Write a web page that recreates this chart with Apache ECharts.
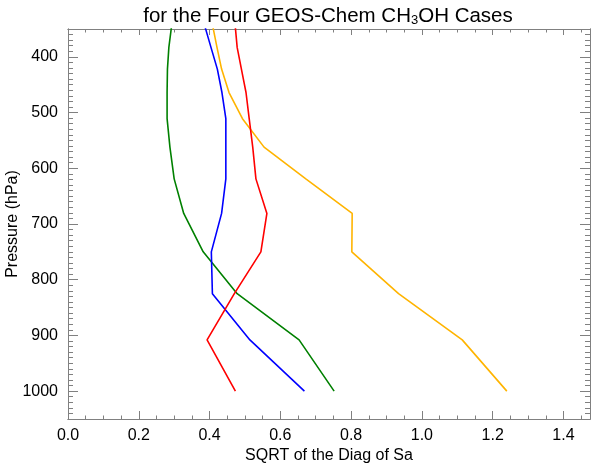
<!DOCTYPE html>
<html>
<head>
<meta charset="utf-8">
<script src="https://cdn.jsdelivr.net/npm/echarts@6/dist/echarts.min.js"></script>
<style>
  html, body { margin: 0; padding: 0; background: #fff; }
  #chart { width: 600px; height: 463px; }
</style>
</head>
<body>
<div id="chart"></div>
<script>
// pressure levels (hPa), bottom to top
const pressure = [1000, 908, 825, 750, 681, 619, 562, 511, 464, 422, 383, 348];

// SQRT of the diagonal of Sa for each case
const redCase    = [0.473, 0.393, 0.470, 0.545, 0.562, 0.531, 0.522, 0.512, 0.503, 0.490, 0.478, 0.473];
const blueCase   = [0.668, 0.514, 0.408, 0.405, 0.434, 0.446, 0.446, 0.446, 0.435, 0.422, 0.404, 0.388];
const greenCase  = [0.752, 0.653, 0.478, 0.382, 0.327, 0.300, 0.288, 0.280, 0.280, 0.281, 0.285, 0.292];
const yellowCase = [1.240, 1.114, 0.934, 0.802, 0.803, 0.672, 0.554, 0.493, 0.455, 0.434, 0.421, 0.410];

const xTickLabels = ['0.0', '0.2', '0.4', '0.6', '0.8', '1.0', '1.2', '1.4'];

const chart = echarts.init(document.getElementById('chart'));

const FONT = 'Liberation Sans';
const frameColor = '#808080';

function pairs(vals) {
  return vals.map((v, i) => [v, pressure[i]]);
}

// axis helper - IDL style box with inward ticks on all four sides
function xAx(pos, major, showLabel) {
  return {
    type: 'value',
    position: pos,
    min: 0,
    max: 1.475,
    interval: major ? 0.2 : 0.05,
    axisLine: { show: true, onZero: false, lineStyle: { color: frameColor, width: 1 } },
    axisTick: { show: true, inside: true, length: major ? (pos === 'bottom' ? 8 : 6) : 3.5,
                lineStyle: { color: frameColor, width: 1 } },
    axisLabel: {
      show: showLabel,
      showMaxLabel: false,
      margin: 9,
      color: '#000',
      fontFamily: FONT,
      fontSize: 16,
      formatter: v => xTickLabels[Math.round(v / 0.2)] || ''
    },
    splitLine: { show: false },
    name: showLabel ? 'SQRT of the Diag of Sa' : '',
    nameLocation: 'middle',
    nameGap: 29,
    nameMoveOverlap: false,
    nameTextStyle: { color: '#000', fontFamily: FONT, fontSize: 16 }
  };
}

function yAx(pos, major, showLabel) {
  const ax = {
    type: 'value',
    position: pos,
    inverse: true,
    min: 350,
    max: 1050,
    axisLine: { show: true, onZero: false, lineStyle: { color: frameColor, width: 1 } },
    axisTick: { show: true, inside: true, length: major ? 10 : 5,
                lineStyle: { color: frameColor, width: 1 } },
    axisLabel: {
      show: showLabel,
      showMinLabel: false,
      showMaxLabel: false,
      margin: 10,
      color: '#000',
      fontFamily: FONT,
      fontSize: 16,
      formatter: v => String(v)
    },
    splitLine: { show: false },
    name: showLabel ? 'Pressure (hPa)' : '',
    nameLocation: 'middle',
    nameGap: 47,
    nameMoveOverlap: false,
    nameTextStyle: { color: '#000', fontFamily: FONT, fontSize: 16 }
  };
  if (major) ax.splitNumber = 7; else ax.interval = 10;
  return ax;
}

function line(vals, color) {
  return {
    type: 'line',
    data: pairs(vals),
    xAxisIndex: 0,
    yAxisIndex: 0,
    symbol: 'none',
    clip: true,
    lineStyle: { color: color, width: 1.6 },
    itemStyle: { color: color }
  };
}

const option = {
  animation: false,
  title: {
    text: 'for the Four GEOS-Chem CH{sub|3}OH Cases',
    left: 323,
    textAlign: 'center',
    top: 0,
    textStyle: {
      color: '#000',
      fontFamily: FONT,
      fontSize: 20.5,
      fontWeight: 'normal',
      rich: {
        sub: { fontFamily: FONT, fontSize: 13, verticalAlign: 'bottom', padding: [9, 0, 0, 0], color: '#000' }
      }
    }
  },
  grid: { left: 68, right: 10, top: 29, bottom: 44, containLabel: false, outerBoundsMode: 'none' },
  xAxis: [
    xAx('bottom', true, true),
    xAx('bottom', false, false),
    xAx('top', true, false),
    xAx('top', false, false)
  ],
  yAxis: [
    yAx('left', true, true),
    yAx('left', false, false),
    yAx('right', true, false),
    yAx('right', false, false)
  ],
  series: [
    line(greenCase, '#008000'),
    line(blueCase, '#0000ff'),
    line(yellowCase, '#ffb400'),
    line(redCase, '#ff0000')
  ]
};

chart.setOption(option);
</script>
</body>
</html>
